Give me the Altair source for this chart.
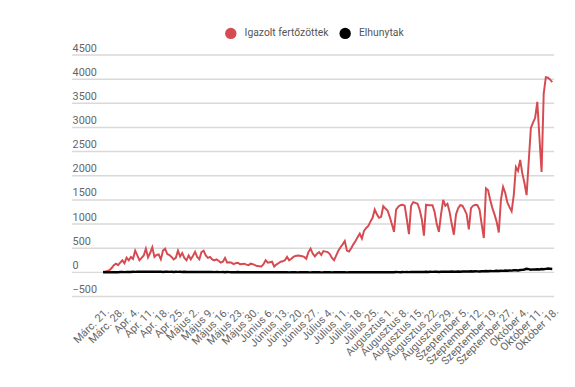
import json
import altair as alt
import pandas as pd

week_labels = [
    "Márc. 21.", "Márc. 28.", "Apr. 4.", "Apr. 11.", "Apr. 18.", "Apr. 25.",
    "Május 2.", "Május 9.", "Május 16.", "Május 23.", "Május 30.",
    "Június 6.", "Június 13.", "Június 20.", "Június 27.",
    "Július 4.", "Július 11.", "Július 18.", "Július 25.",
    "Augusztus 1.", "Augusztus 8.", "Augusztus 15.", "Augusztus 22.", "Augusztus 29.",
    "Szeptember 5.", "Szeptember 12.", "Szeptember 19.", "Szeptember 27.",
    "Október 4.", "Október 11.", "Október 18.",
]

series_names = ["Igazolt fertőzöttek", "Elhunytak"]

confirmed = [
    14, 20, 30, 45, 90, 150, 180, 150, 200, 250,
    190, 305, 250, 320, 280, 450, 350, 250, 300, 350,
    490, 310, 400, 520, 320, 360, 370, 270, 450, 490,
    380, 360, 320, 270, 300, 450, 330, 400, 300, 250,
    350, 270, 340, 425, 320, 270, 420, 450, 350, 300,
    320, 270, 250, 270, 240, 200, 220, 300, 200, 210,
    200, 170, 190, 200, 170, 175, 180, 160, 150, 180,
    170, 150, 130, 125, 120, 170, 250, 200, 210, 220,
    120, 160, 190, 220, 230, 250, 320, 250, 280, 320,
    340, 350, 345, 335, 320, 280, 420, 490, 390, 330,
    385, 420, 360, 440, 430, 420, 380, 300, 250, 350,
    450, 520, 580, 650, 450, 430, 500, 580, 650, 725,
    800, 700, 860, 920, 960, 1050, 1130, 1300, 1200, 1130,
    1150, 1370, 1320, 1280, 1150, 1000, 840, 1300, 1360, 1390,
    1400, 1380, 1100, 790, 1380, 1455, 1440, 1420, 1300, 1100,
    760, 1400, 1390, 1390, 1390, 1250, 1000, 840, 1200, 1500,
    1380, 1420, 1250, 1000, 780, 1200, 1330, 1390, 1380, 1300,
    1200, 890, 1330, 1380, 1400, 1390, 1300, 1000, 710, 1740,
    1700, 1500, 1330, 1200, 1050, 825, 1500, 1770, 1650, 1450,
    1350, 1265, 1600, 2180, 2100, 2330, 2050, 1850, 1600, 2300,
    2990, 3100, 3200, 3530, 2800, 2080, 3700, 4040, 4030, 3990, 3940,
]

deaths = [
    1, 2, 1, 3, 4, 2, 5, 4, 6, 8,
    5, 8, 10, 9, 12, 10, 13, 11, 14, 12,
    14, 12, 15, 13, 11, 14, 12, 15, 10, 13,
    12, 10, 11, 9, 13, 10, 12, 8, 11, 9,
    10, 8, 9, 7, 10, 8, 6, 9, 7, 8,
    6, 7, 5, 8, 6, 5, 7, 4, 6, 5,
    4, 5, 3, 6, 4, 3, 5, 2, 4, 3,
    3, 2, 4, 2, 1, 3, 2, 1, 2, 3,
    1, 2, 1, 3, 2, 1, 2, 0, 1, 2,
    1, 0, 2, 1, 1, 3, 1, 0, 2, 1,
    2, 1, 0, 1, 3, 1, 2, 0, 1, 2,
    1, 3, 2, 1, 0, 2, 1, 2, 3, 1,
    2, 1, 3, 2, 1, 2, 4, 2, 3, 2,
    3, 2, 4, 3, 5, 3, 4, 6, 5, 4,
    6, 5, 7, 5, 8, 6, 9, 7, 8, 10,
    9, 11, 8, 12, 10, 13, 11, 9, 14, 12,
    15, 13, 11, 16, 14, 12, 17, 15, 18, 16,
    20, 17, 22, 19, 24, 21, 18, 25, 23, 27,
    24, 30, 26, 28, 33, 29, 35, 31, 38, 34,
    40, 36, 42, 45, 39, 48, 52, 60, 75, 68,
    55, 62, 58, 65, 61, 70, 66, 72, 78, 74, 70,
]

y_ticks = list(range(-500, 4501, 500))
x_extent = [-14.5, 210.9]

df = pd.DataFrame({"day": list(range(len(confirmed))), "confirmed": confirmed, "deaths": deaths})
legend_df = pd.DataFrame({"series": series_names})
grid_df = pd.DataFrame({"level": y_ticks, "x_start": [x_extent[0]] * len(y_ticks), "x_end": [x_extent[1]] * len(y_ticks)})

RED = "#d64b51"
FONT = "Roboto"
GRID = "#d9d9d9"

x_scale = alt.Scale(domain=x_extent, nice=False, zero=False)
x_axis = alt.Axis(
    values=list(range(0, len(week_labels) * 7, 7)),
    labelExpr=json.dumps(week_labels, ensure_ascii=False) + "[round(datum.value / 7)]",
    labelAngle=-45, labelAlign="right", labelBaseline="top", labelPadding=9,
    labelOverlap=False, labelFlush=False, labelBound=False,
    grid=False, ticks=False, domain=False, title=None,
    labelFont=FONT, labelFontSize=11, labelColor="#666666",
)
x_enc = alt.X("day:Q", scale=x_scale, axis=x_axis)

y_scale = alt.Scale(domain=[-500, 4500], nice=False, zero=False)
y_axis = alt.Axis(
    values=y_ticks, format="d", labelAlign="left", labelBaseline="alphabetic",
    labelPadding=0, labelOffset=-4, ticks=False, tickSize=0, domain=False,
    grid=False, title=None, labelFlush=False,
    labelFont=FONT, labelFontSize=11, labelColor="#666666",
)

grid_rules = alt.Chart(grid_df).mark_rule(color=GRID, strokeWidth=1.5, opacity=1).encode(
    x=alt.X("x_start:Q", scale=x_scale, axis=x_axis),
    x2="x_end:Q",
    y=alt.Y("level:Q", scale=y_scale, axis=y_axis),
)

red_line = alt.Chart(df).mark_line(color=RED, strokeWidth=2).encode(
    x=x_enc,
    y=alt.Y("confirmed:Q", scale=y_scale, axis=y_axis),
)

black_line = alt.Chart(df).mark_line(color="black", strokeWidth=2.5).encode(
    x=x_enc,
    y=alt.Y("deaths:Q", scale=y_scale, axis=y_axis),
)

legend_layer = alt.Chart(legend_df).mark_point(filled=True, shape="circle", opacity=1).encode(
    color=alt.Color(
        "series:N",
        scale=alt.Scale(domain=series_names, range=[RED, "black"]),
        legend=alt.Legend(
            orient="none", legendX=155, legendY=-28, direction="horizontal",
            title=None, symbolType="circle", symbolSize=133, symbolStrokeWidth=0,
            labelFont=FONT, labelFontSize=10.5, labelColor="#555555",
            labelOffset=8, columnPadding=10, padding=0,
        ),
    )
).transform_filter("false")

chart = alt.layer(grid_rules, red_line, black_line, legend_layer).properties(
    width=489,
    height=245,
    autosize=alt.AutoSizeParams(type="none"),
    padding={"left": 65, "top": 45, "right": 13, "bottom": 81},
).configure(background="white").configure_view(stroke=None)

chart.save("out.html", embed_options={"renderer": "svg", "actions": False})
